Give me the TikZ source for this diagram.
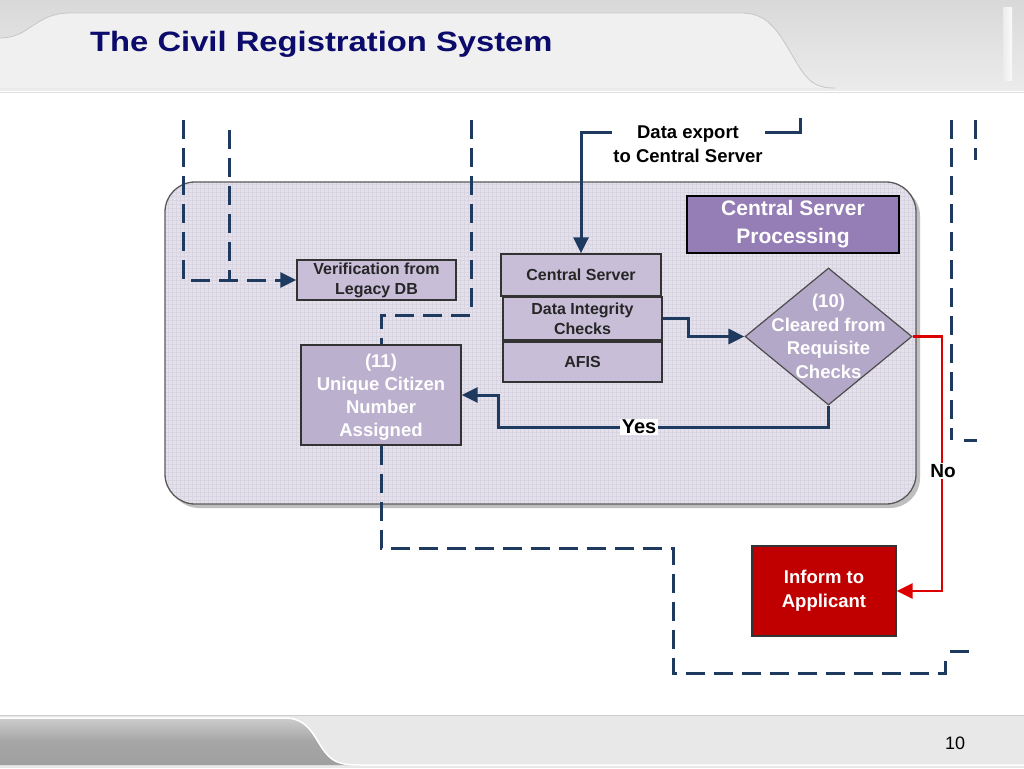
\documentclass[tikz,border=0pt]{standalone}
\usepackage{fontspec}
\setmainfont{Liberation Sans}
\usetikzlibrary{shapes.geometric,arrows.meta,calc}
\definecolor{navy}{HTML}{1F3A5F}
\definecolor{titleblue}{HTML}{0B0B6B}
\definecolor{lav}{HTML}{E5E1EB}
\definecolor{lavgrid}{HTML}{D9D4E1}
\definecolor{boxlav}{HTML}{C8BED8}
\definecolor{boxlavB}{HTML}{BCB0CF}
\definecolor{dialav}{HTML}{B4A8C8}
\definecolor{purp}{HTML}{957DB5}
\definecolor{informred}{HTML}{C00000}
\definecolor{noline}{HTML}{DD0000}
\tikzset{
  fs/.style 2 args={font=\bfseries\fontsize{#1}{#2}\selectfont},
  lbox/.style={draw=black!80, line width=1.3pt, fill=boxlav, align=center, inner sep=0pt, text=black!85, fs={16}{20}},
  wbox/.style={draw=black!80, line width=1.3pt, fill=boxlavB, align=center, inner sep=0pt, text=white, fs={18.5}{23}},
  navyline/.style={draw=navy, line width=3pt},
  dashline/.style={draw=navy, line width=3pt, dash pattern=on 19pt off 9pt},
  tip/.style={-{Triangle[length=16pt,width=15pt]}},
  lbl/.style={fill=white, inner sep=1.5pt, text=black}
}
\begin{document}
\begin{tikzpicture}[x=1pt,y=-1pt]
\useasboundingbox (0,0) rectangle (1024,768);
% header
\shade[top color=gray!30, bottom color=gray!15] (0,0) rectangle (1024,92);
\shade[left color=gray!15, right color=gray!4] (1003,8) rectangle (1012,80);
\fill[white!94!black] (0,38) .. controls (30,38) and (35,13) .. (70,13) -- (742,13)
  .. controls (770,13) and (780,35) .. (795,60) .. controls (808,82) and (815,88) .. (835,88) -- (0,88) -- cycle;
\draw[gray!45, line width=0.8pt] (0,38) .. controls (30,38) and (35,13) .. (70,13) -- (742,13)
  .. controls (770,13) and (780,35) .. (795,60) .. controls (808,82) and (815,88) .. (835,88);
\fill[white] (0,91) rectangle (1024,768);
\draw[gray!25, line width=1pt] (0,92) -- (1024,92);
\node[anchor=base west, text=titleblue, fs={28}{32}, inner sep=0pt] (title) at (90,52) {\scalebox{1.17}[1]{The Civil Registration System}};
% footer
\fill[gray!18] (0,715) rectangle (1024,768);
\shade[top color=gray!40, bottom color=gray!75, middle color=gray!70] (0,718) -- (285,718) .. controls (310,718) and (315,740) .. (325,752)
  .. controls (333,762) and (340,765) .. (360,765) -- (0,765) -- cycle;
\draw[white, line width=1.5pt] (0,718) -- (285,718) .. controls (310,718) and (315,740) .. (325,752)
  .. controls (333,762) and (340,765) .. (360,765) -- (1024,765);
\draw[gray!40, line width=1pt] (0,715) -- (1024,715);
\node[text=black, font=\fontsize{18}{20}\selectfont, inner sep=0pt] (pagenum) at (955,743) {10};
% container
\fill[black!25, rounded corners=30pt] (169,186) rectangle (920,508);
\fill[lav, rounded corners=30pt] (165,182) rectangle (916,504);
\begin{scope}
\clip[rounded corners=30pt] (165,182) rectangle (916,504);
\draw[lavgrid, line width=0.35pt, step=4pt] (165,182) grid (916,504);
\end{scope}
\draw[gray!70!black, line width=1.3pt, rounded corners=30pt] (165,182) rectangle (916,504);
% nodes
\node[lbox, minimum width=159pt, minimum height=40pt] (verif) at (376.5,280) {Verification from\\Legacy DB};
\node[lbox, minimum width=160pt, minimum height=42pt] (cs) at (581,275) {Central Server};
\node[lbox, minimum width=159pt, minimum height=43pt] (dic) at (582.5,318.5) {Data Integrity\\Checks};
\node[lbox, minimum width=159pt, minimum height=40pt] (afis) at (582.5,362) {AFIS};
\node[wbox, minimum width=160pt, minimum height=100pt, text depth=0pt] (b11) at (381,395) {};
\node[text=white, fs={18.5}{23}, align=center, inner sep=0pt] (b11text) at (381,397) {(11)\\Unique Citizen\\Number\\Assigned};
\node[draw=black, line width=2.4pt, fill=purp, text=white, fs={21}{28}, align=center, inner sep=0pt,
      minimum width=212pt, minimum height=57pt] (csp) at (793,224.5) {Central Server\\Processing};
\node[diamond, draw=black!70, line width=1.2pt, fill=dialav, inner sep=0pt, aspect=1.22,
      minimum width=167pt, minimum height=137pt] (dia) at (828.5,336.5) {};
\node[text=white, fs={18.5}{23.5}, align=center, inner sep=0pt] (diatext) at (828.5,336.5) {(10)\\Cleared from\\Requisite\\Checks};
\node[draw=black!80, line width=1.3pt, fill=informred, text=white, fs={18.5}{24}, align=center, inner sep=0pt,
      minimum width=144pt, minimum height=90pt] (inf) at (824,591) {Inform to\\Applicant};
\node[text=black, fs={18.5}{24}, align=center, inner sep=0pt] (dexp) at (688,144) {Data export\\to Central Server};
% coordinates
\coordinate (dl) at (612,132);
\coordinate (dr) at (765,132);
\coordinate (dre) at (800,118);
\coordinate (a1) at (183,120);
\coordinate (a2) at (229,130);
\coordinate (a2e) at (229,280);
\coordinate (a3) at (471,120);
\coordinate (a3c) at (381,315);
\coordinate (a4c) at (673,548);
\coordinate (a4d) at (945,673);
\coordinate (a4e) at (945,660);
\coordinate (a4g) at (950,651);
\coordinate (a4f) at (970,651);
\coordinate (a5) at (951,120);
\coordinate (a5e) at (951,440);
\coordinate (a5s) at (964,440);
\coordinate (a5t) at (977,440);
\coordinate (a6) at (975,120);
\coordinate (a6e) at (975,160);
% solid connectors
\draw[navyline, tip] (dl) -| (cs.north);
\draw[navyline] (dr) -| (dre);
\draw[navyline, tip] (dic.east) -- (688,318.5) |- (dia.west);
\draw[navyline, tip] (dia.south) |- (498,427) |- (b11.east);
\node[lbl, fs={20}{22}] (yes) at (639,427) {Yes};
\draw[noline, line width=2.8pt, -{Triangle[length=16pt,width=15pt]}] (dia.east) -- (942,336.5) |- (inf.east);
\node[lbl, fs={19}{22}] (no) at (943,471) {No};
% dashed connectors
\draw[dashline, tip] (a1) |- (verif.west);
\draw[dashline] (a2) -- (a2e);
\draw[dashline] (a3) |- (a3c) -- (b11.north);
\draw[dashline] (b11.south) |- (a4c) |- (a4d) -- (a4e);
\draw[dashline] (a4g) -- (a4f);
\draw[dashline] (a5) -- (a5e);
\draw[dashline] (a5s) -- (a5t);
\draw[dashline] (a6) -- (a6e);
\end{tikzpicture}
\end{document}
